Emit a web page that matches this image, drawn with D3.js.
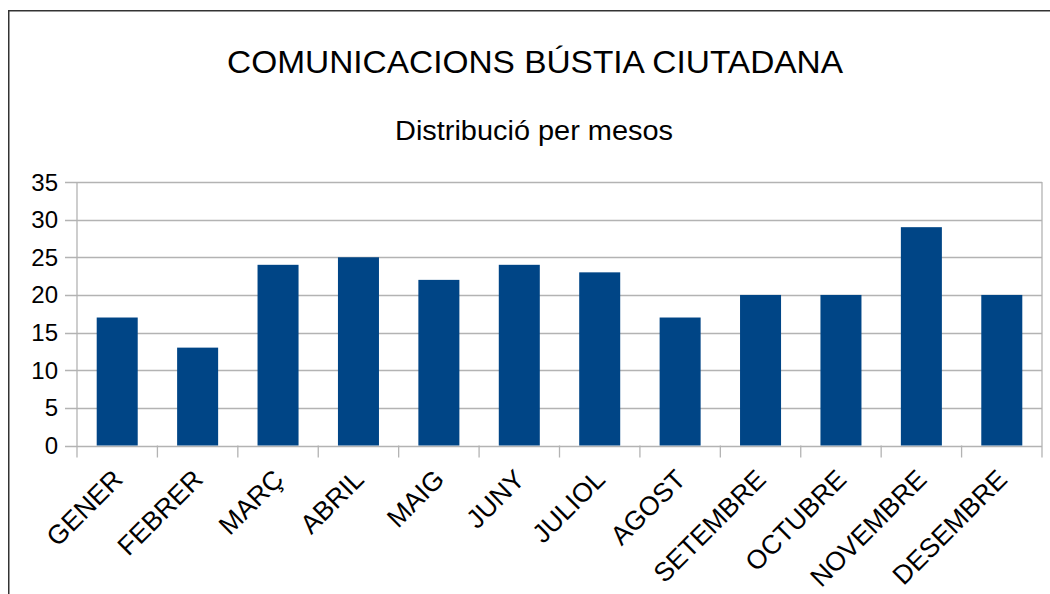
<!DOCTYPE html>
<html>
<head>
<meta charset="utf-8">
<script src="https://cdn.jsdelivr.net/npm/d3@7"></script>
<style>
  body { margin: 0; background: #fff; }
  text { font-family: "Liberation Sans", Arial, sans-serif; fill: #000; }
</style>
</head>
<body>
<div id="chart"></div>
<script>
var title = "COMUNICACIONS BÚSTIA CIUTADANA";
var subtitle = "Distribució per mesos";
var months = ["GENER", "FEBRER", "MARÇ", "ABRIL", "MAIG", "JUNY", "JULIOL", "AGOST", "SETEMBRE", "OCTUBRE", "NOVEMBRE", "DESEMBRE"];
var counts = [17, 13, 24, 25, 22, 24, 23, 17, 20, 20, 29, 20];
var yTicks = [0, 5, 10, 15, 20, 25, 30, 35];

var W = 1050, H = 594;
var plot = {left: 77, right: 1042, top: 182, bottom: 445.5};
var gridColor = "#b3b3b3";

var svg = d3.select("#chart").append("svg")
    .attr("width", W)
    .attr("height", H);

svg.append("rect").attr("width", W).attr("height", H).attr("fill", "#fff");

// outer frame (right and bottom edges are outside the picture)
svg.append("rect")
    .attr("x", 8.75).attr("y", 10.75)
    .attr("width", 1200).attr("height", 800)
    .attr("fill", "none")
    .attr("stroke", "#333")
    .attr("stroke-width", 1.5);

svg.append("text")
    .attr("x", 535).attr("y", 73)
    .attr("text-anchor", "middle")
    .attr("textLength", 616)
    .attr("lengthAdjust", "spacingAndGlyphs")
    .style("font-size", "32px")
    .text(title);

svg.append("text")
    .attr("x", 534).attr("y", 140)
    .attr("text-anchor", "middle")
    .attr("textLength", 278)
    .attr("lengthAdjust", "spacingAndGlyphs")
    .style("font-size", "27px")
    .text(subtitle);

var x = d3.scaleBand()
    .domain(months)
    .range([plot.left, plot.right])
    .paddingInner(0.49)
    .paddingOuter(0.245);

var y = d3.scaleLinear()
    .domain([0, 35])
    .range([plot.bottom, plot.top]);

var band = d3.scaleBand().domain(months).range([plot.left, plot.right]);

// grid lines
svg.append("g")
    .selectAll("line")
    .data(yTicks)
    .join("line")
    .attr("x1", plot.left - 12).attr("x2", plot.right)
    .attr("y1", function(d) { return Math.round(y(d)) + 0.5; })
    .attr("y2", function(d) { return Math.round(y(d)) + 0.5; })
    .attr("stroke", gridColor)
    .attr("stroke-width", 1.3);

// vertical axis line and right border
svg.append("line")
    .attr("x1", plot.left).attr("x2", plot.left)
    .attr("y1", plot.top).attr("y2", plot.bottom + 12)
    .attr("stroke", gridColor).attr("stroke-width", 1.3);
svg.append("line")
    .attr("x1", plot.right).attr("x2", plot.right)
    .attr("y1", plot.top).attr("y2", plot.bottom + 12)
    .attr("stroke", gridColor).attr("stroke-width", 1.3);

// category tick marks
svg.append("g")
    .selectAll("line")
    .data(months.slice(1))
    .join("line")
    .attr("x1", function(d) { return band(d); })
    .attr("x2", function(d) { return band(d); })
    .attr("y1", plot.bottom).attr("y2", plot.bottom + 12)
    .attr("stroke", gridColor).attr("stroke-width", 1.3);

// y labels
svg.append("g")
    .selectAll("text")
    .data(yTicks)
    .join("text")
    .attr("x", 58)
    .attr("y", function(d) { return y(d) + 8.5; })
    .attr("text-anchor", "end")
    .style("font-size", "24px")
    .text(function(d) { return d; });

// bars
svg.append("g")
    .selectAll("rect")
    .data(counts)
    .join("rect")
    .attr("x", function(d, i) { return x(months[i]); })
    .attr("y", function(d) { return y(d); })
    .attr("width", x.bandwidth())
    .attr("height", function(d) { return y(0) - y(d); })
    .attr("fill", "#004586");

// x labels, rotated
svg.append("g")
    .selectAll("text")
    .data(months)
    .join("text")
    .attr("text-anchor", "end")
    .style("font-size", "26.5px")
    .attr("transform", function(d) {
        var cx = band(d) + band.bandwidth() / 2 + 7;
        return "translate(" + cx + ",481) rotate(-45)";
    })
    .text(function(d) { return d; });
</script>
</body>
</html>
